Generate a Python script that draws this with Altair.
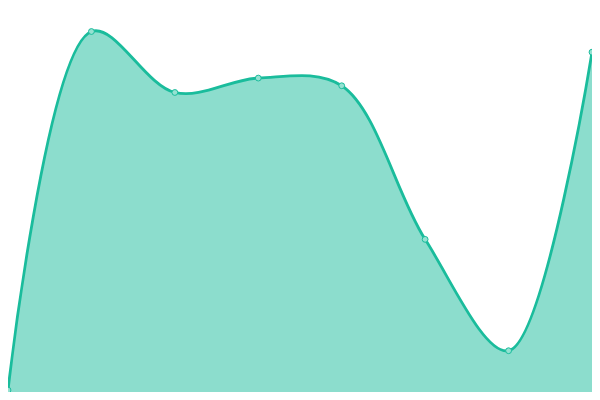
import altair as alt
import pandas as pd

idx = [0, 1, 2, 3, 4, 5, 6, 7]
values = [2, 375.5, 312, 327, 319, 159, 43, 354]

df = pd.DataFrame({"i": idx, "v": values})

x = alt.X("i:Q", scale=alt.Scale(domain=[0, 7], nice=False, zero=False), axis=None)
y = alt.Y("v:Q", scale=alt.Scale(domain=[0, 400], nice=False), axis=None)

area = alt.Chart(df).mark_area(
    interpolate="catmull-rom", color="#1abc9c", opacity=0.5
).encode(x=x, y=y)

line = alt.Chart(df).mark_line(
    interpolate="catmull-rom", color="#1abc9c", strokeWidth=2.8
).encode(x=x, y=y)

pts = alt.Chart(df).mark_point(
    filled=True, fill="#95e2d2", stroke="#1abc9c", strokeWidth=1, size=34, opacity=1
).encode(x=x, y=y)

chart = (area + line + pts).properties(
    width=584, height=384, padding=0,
    autosize=alt.AutoSizeParams(type="none"),
    background="white",
).configure_view(stroke=None)

chart.save("out.html", embed_options={"renderer": "svg", "actions": False})
